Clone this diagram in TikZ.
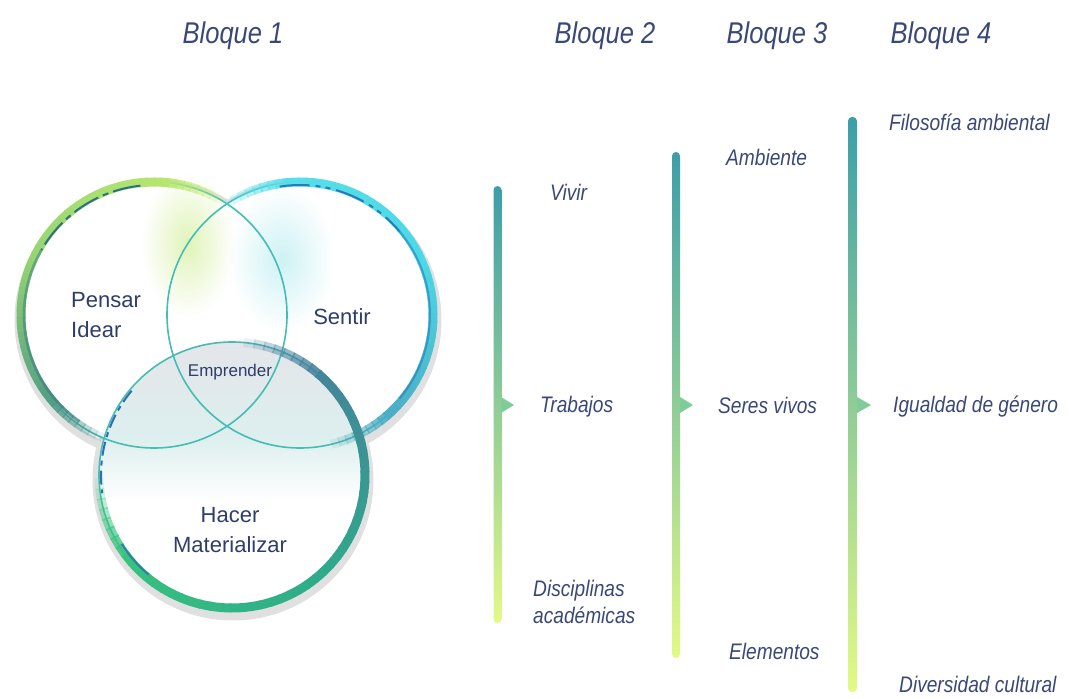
\documentclass[tikz,border=0pt]{standalone}
\usepackage{fontspec}
\setmainfont{Liberation Sans}
\newfontfamily\condit{Liberation Sans Italic}[FakeStretch=0.85]
\usetikzlibrary{calc,fadings}
\definecolor{txtblue}{HTML}{3A4878}
\definecolor{venntxt}{HTML}{2F3D6B}
\definecolor{thinteal}{HTML}{45BDB5}
\definecolor{barTop}{HTML}{3C9EA8}
\definecolor{barMid}{HTML}{7ECC97}
\definecolor{barBot}{HTML}{E2FA86}
\definecolor{ringAa}{HTML}{C2EC6E}
\definecolor{ringAb}{HTML}{96D672}
\definecolor{ringAc}{HTML}{3A8888}
\definecolor{ringBa}{HTML}{5AE2EC}
\definecolor{ringBb}{HTML}{4CD8E6}
\definecolor{ringBc}{HTML}{4A9EB8}
\definecolor{ringCa}{HTML}{4A78A0}
\definecolor{ringCb}{HTML}{2FAA8A}
\definecolor{ringCc}{HTML}{3ACB7A}
\definecolor{accA}{HTML}{2D6F86}
\definecolor{accB}{HTML}{2A7AB8}
\definecolor{accC}{HTML}{2F6FAF}
\definecolor{washA}{HTML}{D6F0A0}
\definecolor{washB}{HTML}{BDEEF2}
\definecolor{washCg}{HTML}{E4E5E9}
\definecolor{washCt}{HTML}{DDEFEE}
\tikzfading[name=softblob, inner color=transparent!25, outer color=transparent!100]

\newcommand{\ringseg}[8]{%
  \foreach \rk in {0,...,59}{%
    \pgfmathsetmacro{\rgA}{#3+\rk*(#4-#3)/60}%
    \pgfmathsetmacro{\rgB}{\rgA+1.15*(#4-#3)/60}%
    \pgfmathtruncatemacro{\rgT}{\rk*100/59}%
    \ifnum\rgT<50
      \pgfmathtruncatemacro{\rgU}{2*\rgT}%
      \colorlet{rgc}{#6!\rgU!#5}%
    \else
      \pgfmathtruncatemacro{\rgU}{2*\rgT-100}%
      \colorlet{rgc}{#7!\rgU!#6}%
    \fi
    \pgfmathsetmacro{\rgF}{min(1,(\rk+1)/9,(60-\rk)/9)}%
    \draw[rgc, line width=#8, opacity=\rgF] (#1) ++(\rgA:#2) arc[start angle=\rgA, end angle=\rgB, radius=#2];
  }%
}

\tikzset{
  title/.style={txtblue, inner sep=0pt, anchor=base, font=\condit\fontsize{30}{36}\selectfont},
  lbl/.style={txtblue, inner sep=0pt, anchor=base west, align=left, font=\condit\fontsize{22.5}{27}\selectfont},
  venn/.style={venntxt, inner sep=0pt, font=\fontsize{22}{30}\selectfont},
  bar/.style={top color=barTop, middle color=barMid, bottom color=barBot, rounded corners=4pt},
  tip/.style={fill=barMid},
}

\begin{document}
\begin{tikzpicture}[x=1pt,y=1pt]
\useasboundingbox (0,0) rectangle (1069,699);

% ---------- Venn ----------
\coordinate (A) at (154,384);
\coordinate (B) at (300,384);
\coordinate (C) at (232,224);

\foreach \c in {A,B,C} \draw[black!12, line width=9] ($(\c)+(1,-5)$) circle (136);
\foreach \c in {A,B,C} \fill[white] (\c) circle (133);

\fill[washA, path fading=softblob] (188,455) ellipse (46 and 72);
\fill[washB, path fading=softblob] (282,440) ellipse (52 and 72);
\begin{scope}
  \clip (C) circle (133);
  \shade[top color=washCg, bottom color=washCt] (95,260) rectangle (370,360);
  \shade[top color=washCt, bottom color=white] (95,198) rectangle (370,260.5);
\end{scope}

\foreach \c in {A,B,C} \draw[thinteal, line width=1.6] (\c) circle (133);

\ringseg{A}{133}{58}{247}{ringAa}{ringAb}{ringAc}{9}
\ringseg{B}{133}{124}{-76}{ringBa}{ringBb}{ringBc}{9}
\ringseg{C}{133}{85}{-178}{ringCa}{ringCb}{ringCc}{9}

% dark accents
\draw[accA, line width=2, dash pattern=on 28pt off 5pt on 6pt off 5pt] (A) ++(96:130) arc[start angle=96, end angle=150, radius=130];
\draw[accA, line width=2.5, opacity=0.45] (A) ++(150:130) arc[start angle=150, end angle=235, radius=130];
\draw[accB, line width=2, dash pattern=on 30pt off 6pt on 5pt off 5pt on 5pt off 6pt] (B) ++(99:130) arc[start angle=99, end angle=40, radius=130];
\draw[accB, line width=2, opacity=0.6] (B) ++(40:130) arc[start angle=40, end angle=-40, radius=130];
\draw[accC, line width=2, dash pattern=on 14pt off 5pt on 5pt off 5pt] (C) ++(140:131) arc[start angle=140, end angle=188, radius=131];
\draw[accC, line width=2, opacity=0.8] (C) ++(212:130) arc[start angle=212, end angle=230, radius=130];

\node[venn, anchor=base west, align=left] (pensar) at (71,361) {Pensar\\Idear};
\node[venn, anchor=base] (sentir) at (342,374) {Sentir};
\node[venn, anchor=base, font=\fontsize{17}{20}\selectfont] (empr) at (230,322) {Emprender};
\node[venn, anchor=base, align=center] (hacer) at (230,146) {Hacer\\Materializar};

% ---------- Titles ----------
\node[title] (b1) at (233,655) {Bloque 1};
\node[title] (b2) at (605,655) {Bloque 2};
\node[title] (b3) at (777,655) {Bloque 3};
\node[title] (b4) at (941,655) {Bloque 4};

% ---------- Bars ----------
\shade[bar] (493.5,76) rectangle (501.5,513);
\fill[tip] (501,286) -- (514,294) -- (501,302) -- cycle;
\shade[bar] (672,41) rectangle (680,547);
\fill[tip] (680,286) -- (693,294) -- (680,302) -- cycle;
\shade[bar] (848,7) rectangle (857,582);
\fill[tip] (857,286) -- (871,294) -- (857,302) -- cycle;

% ---------- Labels ----------
\node[lbl] (vivir) at (550,498) {Vivir};
\node[lbl] (trab) at (540,286) {Trabajos};
\node[lbl] (disc) at (533,75) {Disciplinas\\académicas};
\node[lbl] (amb) at (726,533) {Ambiente};
\node[lbl] (seres) at (718,285) {Seres vivos};
\node[lbl] (elem) at (729,39) {Elementos};
\node[lbl] (filo) at (889,568) {Filosofía ambiental};
\node[lbl] (igual) at (893,286) {Igualdad de género};
\node[lbl] (div) at (899,6) {Diversidad cultural};
\end{tikzpicture}
\end{document}
